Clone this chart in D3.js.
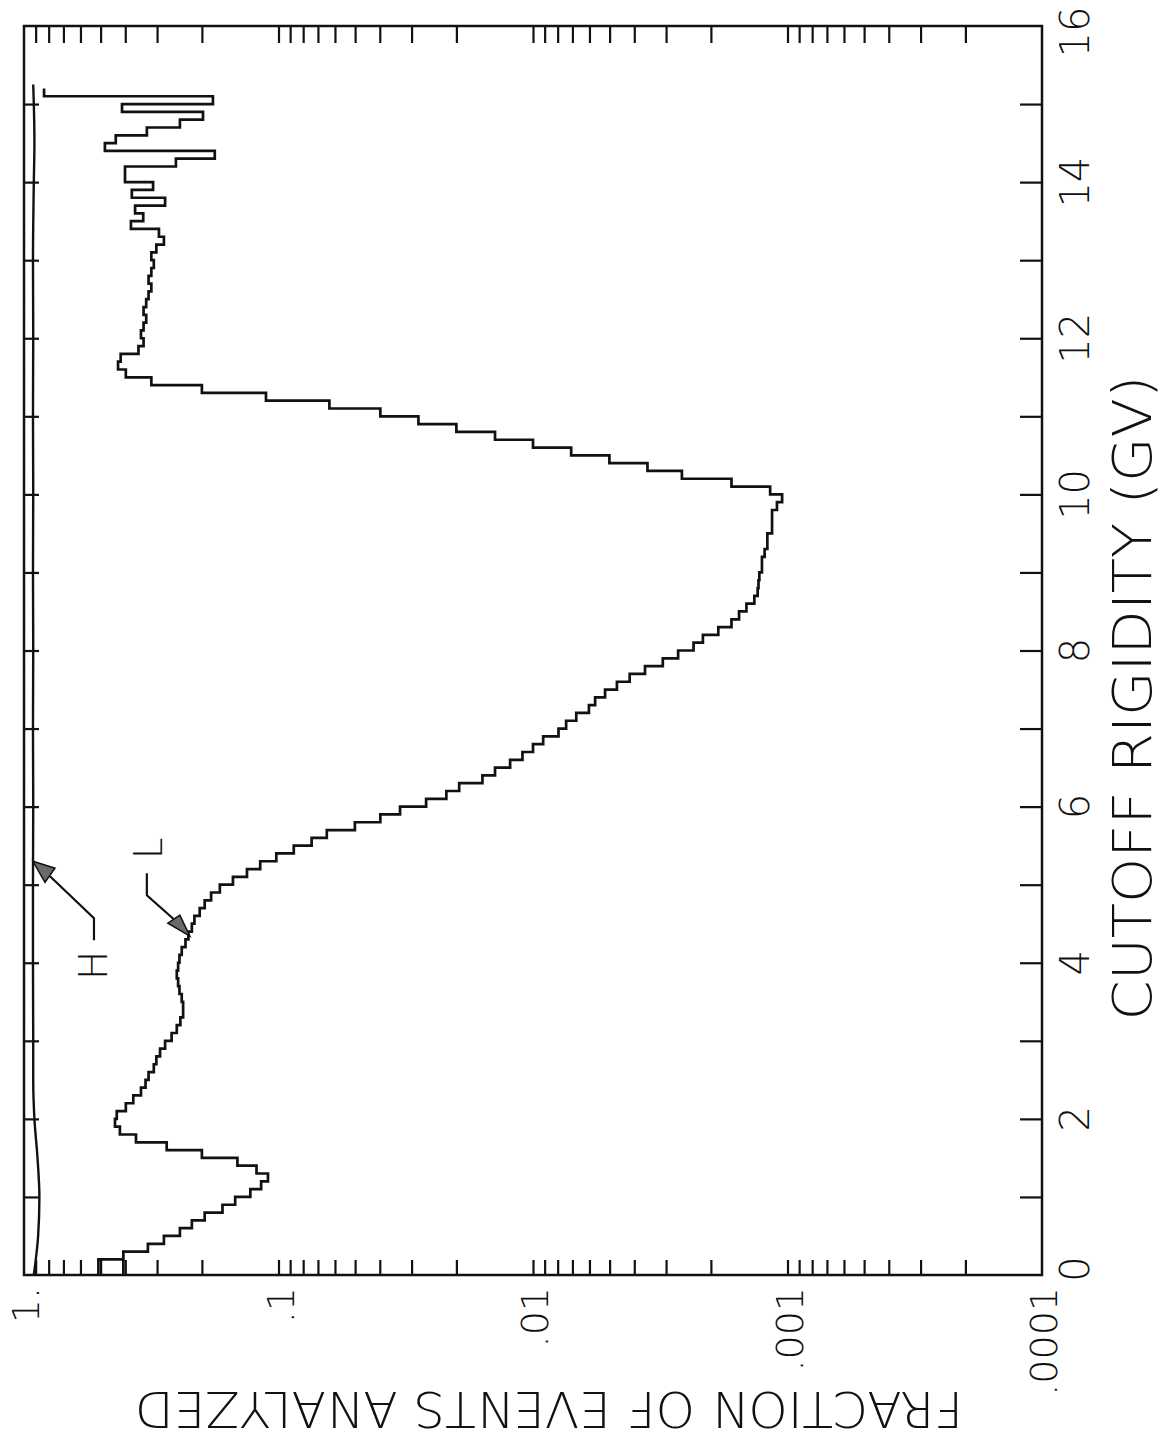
<!DOCTYPE html>
<html>
<head>
<meta charset="utf-8">
<script src="https://cdn.jsdelivr.net/npm/d3@7"></script>
<style>
  body { margin: 0; background: #fff; }
  svg { display: block; }
  text { font-family: "DejaVu Sans", "Noto Sans", sans-serif; font-weight: 200; fill: #111; }
</style>
</head>
<body>
<div id="chart"></div>
<script>
// Cutoff rigidity bins (GV), 0.1 GV wide, starting at 0
const binWidth = 0.1;
const binStart = 0;

// L curve: fraction of events analyzed per bin
const lowFraction = [
  0.510, 0.510, 0.407, 0.326, 0.282, 0.244, 0.219, 0.195, 0.166, 0.148,
  0.129, 0.117, 0.110, 0.122, 0.145, 0.200, 0.275, 0.363, 0.420, 0.439,
  0.432, 0.398, 0.372, 0.347, 0.333, 0.324, 0.309, 0.302, 0.292, 0.279,
  0.263, 0.251, 0.243, 0.237, 0.237, 0.240, 0.245, 0.248, 0.251, 0.248,
  0.245, 0.240, 0.232, 0.226, 0.219, 0.214, 0.204, 0.195, 0.184, 0.170,
  0.151, 0.133, 0.118, 0.102, 0.0871, 0.0741, 0.0646, 0.0501, 0.0398, 0.0333,
  0.0263, 0.0219, 0.0195, 0.0158, 0.0141, 0.0123, 0.0110, 0.0100, 0.00912, 0.00794,
  0.00741, 0.00676, 0.00603, 0.00570, 0.00521, 0.00468, 0.00417, 0.00363, 0.00309, 0.00269,
  0.00234, 0.00215, 0.00187, 0.00166, 0.00155, 0.00145, 0.00135, 0.00131, 0.00130, 0.00129,
  0.00126, 0.00126, 0.00123, 0.00120, 0.00120, 0.00115, 0.00115, 0.00115, 0.00110, 0.00105,
  0.00117, 0.00166, 0.00260, 0.00355, 0.00501, 0.00708, 0.0100, 0.0141, 0.0200, 0.0282,
  0.0398, 0.0631, 0.112, 0.200, 0.316, 0.398, 0.427, 0.417, 0.355, 0.339,
  0.347, 0.339, 0.331, 0.339, 0.331, 0.324, 0.316, 0.324, 0.316, 0.309,
  0.316, 0.302, 0.282, 0.295, 0.380, 0.340, 0.366, 0.279, 0.377, 0.311,
  0.401, 0.401, 0.253, 0.178, 0.481, 0.436, 0.329, 0.244, 0.198, 0.412,
  0.181, 0.834
];
// Opening edge of the L histogram at the low-rigidity end
const lowOpening = { fraction: 0.407, from: 0, to: 0.2 };

// H curve: fraction of events analyzed, sampled along rigidity
const highRigidity = [0, 0.5, 1, 1.5, 2, 2.5, 3, 4, 5, 6, 7, 8, 9, 10, 11, 12, 13, 14, 14.5, 15, 15.25];
const highFraction = [0.915, 0.88, 0.87, 0.885, 0.91, 0.92, 0.92, 0.922, 0.922, 0.92, 0.922, 0.92, 0.922, 0.92, 0.922, 0.92, 0.922, 0.915, 0.91, 0.915, 0.92];

// Axis labels
const rigidityLabels = [0, 2, 4, 6, 8, 10, 12, 14, 16];
const fractionLabels = [
  { value: 1, text: "1." },
  { value: 0.1, text: ".1" },
  { value: 0.01, text: ".01" },
  { value: 0.001, text: ".001" },
  { value: 0.0001, text: ".0001" }
];

const W = 1164, H = 1440;
const frame = { left: 24, right: 1042, top: 26, bottom: 1275 };
const ink = "#111";

// Plot is rotated: rigidity runs bottom->top, fraction runs left (1) -> right (.0001)
const fx = d3.scaleLog().domain([1, 1e-4]).range([frame.left, frame.right]);
const gy = d3.scaleLinear().domain([0, 16]).range([frame.bottom, frame.top]);

const svg = d3.select("#chart").append("svg")
  .attr("width", W).attr("height", H);
svg.append("rect").attr("width", W).attr("height", H).attr("fill", "#fff");

// Frame
svg.append("rect")
  .attr("x", frame.left).attr("y", frame.top)
  .attr("width", frame.right - frame.left).attr("height", frame.bottom - frame.top)
  .attr("fill", "none").attr("stroke", ink).attr("stroke-width", 2.5);

// Log ticks (1..9 per decade), no labels
const logTicks = fx.ticks().filter(v => v < 0.999 && v > 1.0001e-4);
const gvTicks = d3.range(1, 16);

function styleAxis(g) {
  g.select(".domain").remove();
  g.selectAll(".tick line").attr("stroke", ink).attr("stroke-width", 2.2);
  g.selectAll(".tick text").remove();
}

svg.append("g").attr("transform", `translate(0,${frame.top})`)
  .call(d3.axisBottom(fx).tickValues(logTicks).tickSize(17).tickFormat(""))
  .call(styleAxis);
svg.append("g").attr("transform", `translate(0,${frame.bottom})`)
  .call(d3.axisTop(fx).tickValues(logTicks).tickSize(15).tickFormat(""))
  .call(styleAxis);
svg.append("g").attr("transform", `translate(${frame.right},0)`)
  .call(d3.axisLeft(gy).tickValues(gvTicks).tickSize(22).tickFormat(""))
  .call(styleAxis);
svg.append("g").attr("transform", `translate(${frame.left},0)`)
  .call(d3.axisRight(gy).tickValues(gvTicks).tickSize(15).tickFormat(""))
  .call(styleAxis);

// Rigidity tick labels (rotated -90, right side), kept inside the page
svg.selectAll(".gvlab").data(rigidityLabels).enter().append("text")
  .attr("class", "gvlab")
  .attr("transform", d => `translate(1089,${Math.max(32, Math.min(1269, gy(d)))}) rotate(-90)`)
  .attr("text-anchor", "middle")
  .attr("font-size", 40)
  .text(d => d);

// Fraction tick labels (rotated -90, bottom)
svg.selectAll(".frlab").data(fractionLabels).enter().append("text")
  .attr("class", "frlab")
  .attr("transform", d => `translate(${fx(d.value) + 15},1287) rotate(-90)`)
  .attr("text-anchor", "end")
  .attr("font-size", 38)
  .text(d => d.text);

// Axis titles
svg.append("text")
  .attr("transform", "translate(1151,698) rotate(-90)")
  .attr("text-anchor", "middle")
  .attr("font-size", 54)
  .attr("textLength", 645).attr("lengthAdjust", "spacingAndGlyphs")
  .text("CUTOFF RIGIDITY (GV)");

svg.append("text")
  .attr("transform", "translate(549,1392) rotate(180)")
  .attr("text-anchor", "middle")
  .attr("font-size", 50)
  .attr("textLength", 828).attr("lengthAdjust", "spacingAndGlyphs")
  .text("FRACTION OF EVENTS ANALYZED");

// L histogram (step outline, rotated)
const lowPts = [];
lowFraction.forEach((v, i) => {
  const lo = binStart + i * binWidth, hi = lo + binWidth;
  lowPts.push([fx(v), gy(lo)], [fx(v), gy(hi)]);
});
svg.append("path")
  .attr("d", d3.line()(lowPts))
  .attr("fill", "none").attr("stroke", ink).attr("stroke-width", 2.7)
  .attr("stroke-linejoin", "miter");
svg.append("path")
  .attr("d", d3.line()([[fx(lowOpening.fraction), gy(lowOpening.from)], [fx(lowOpening.fraction), gy(lowOpening.to)]]))
  .attr("fill", "none").attr("stroke", ink).attr("stroke-width", 2.7);

// H curve
svg.append("path")
  .attr("d", d3.line().curve(d3.curveMonotoneY)(highRigidity.map((r, i) => [fx(highFraction[i]), gy(r)])))
  .attr("fill", "none").attr("stroke", ink).attr("stroke-width", 2.4);

// Annotation arrows
function arrow(tip, head, shaft, label) {
  const [tx, ty] = [fx(tip[0]), gy(tip[1])];
  const g = svg.append("g").attr("transform", `translate(${tx},${ty})`);
  g.append("path")
    .attr("d", d3.line()(shaft))
    .attr("fill", "none").attr("stroke", ink).attr("stroke-width", 2.2);
  g.append("path")
    .attr("d", d3.line()([[0, 0], head[0], head[1]]) + "Z")
    .attr("fill", "#6a6a6a").attr("stroke", ink).attr("stroke-width", 1.5);
  g.append("text")
    .attr("transform", `translate(${label.x},${label.y}) rotate(-90)`)
    .attr("text-anchor", label.anchor)
    .attr("font-size", 39)
    .text(label.text);
}

arrow([0.922, 5.3], [[22, 7], [12, 21]], [[17, 15], [61, 57], [61, 79]],
  { x: 74, y: 104, anchor: "middle", text: "H" });
arrow([0.223, 4.34], [[-22, -13], [-10, -21]], [[-16, -17], [-43, -41], [-43, -63]],
  { x: -28, y: -77, anchor: "start", text: "L" });
</script>
</body>
</html>
